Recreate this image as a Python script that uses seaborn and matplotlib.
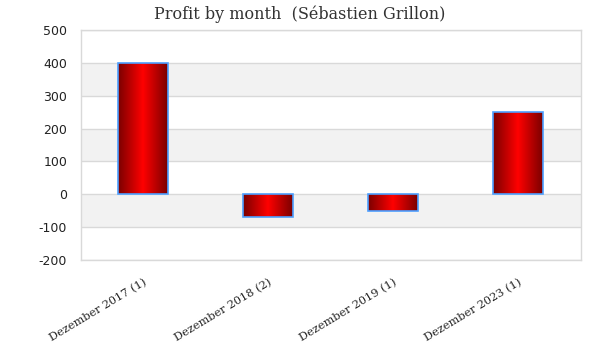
import numpy as np
import pandas as pd
import matplotlib
matplotlib.use("Agg")
import matplotlib.pyplot as plt
import seaborn as sns
from matplotlib.colors import LinearSegmentedColormap

months = ["Dezember 2017 (1)", "Dezember 2018 (2)", "Dezember 2019 (1)", "Dezember 2023 (1)"]
profit = [400, -70, -50, 250]
y_ticks = [-200, -100, 0, 100, 200, 300, 400, 500]

df = pd.DataFrame({"month": months, "profit": profit})

sns.set_style("white")

fig = plt.figure(figsize=(6, 3.6), dpi=100)
ax = fig.add_axes([0.135, 0.2778, 0.833, 0.6389])

sns.barplot(data=df, x="month", y="profit", width=0.4, ax=ax,
            color="red", edgecolor="#4d9fff", linewidth=1.2, zorder=3)
bars = list(ax.patches)

# alternating bands + grid
for lo in [300, 100, -100]:
    ax.axhspan(lo, lo + 100, color="#f2f2f2", zorder=0, lw=0)
for t in y_ticks:
    ax.axhline(t, color="#d9d9d9", lw=1, zorder=1)

# gradient fill clipped to each bar
grad_cmap = LinearSegmentedColormap.from_list("bar", ["#7a0000", "#ff0000", "#7a0000"])
grad = np.linspace(0, 1, 256).reshape(1, -1)
for p in bars:
    x0, y0 = p.get_x(), p.get_y()
    w, h = p.get_width(), p.get_height()
    im = ax.imshow(grad, cmap=grad_cmap, aspect="auto",
                   extent=[x0, x0 + w, y0, y0 + h], zorder=2.5)
    im.set_clip_path(p)
    p.set_facecolor("none")

ax.set_xlim(-0.5, 3.5)
ax.set_ylim(-200, 500)
ax.set_yticks(y_ticks)
ax.set_yticklabels([str(t) for t in y_ticks], fontsize=9, color="#222222")
ax.set_xlabel("")
ax.set_ylabel("")
ax.tick_params(axis="both", length=0)
ax.tick_params(axis="y", pad=10)
ax.tick_params(axis="x", pad=12)
plt.setp(ax.get_xticklabels(), rotation=31, ha="right", rotation_mode="anchor",
         fontsize=8.2, family="DejaVu Serif", color="#222222")

for s in ax.spines.values():
    s.set_visible(True)
    s.set_color("#d9d9d9")
    s.set_linewidth(1)

fig.suptitle("Profit by month  (Sébastien Grillon)", y=0.985, fontsize=11.5,
             family="DejaVu Serif", color="#333333")

fig.savefig("out.png", dpi=100)
